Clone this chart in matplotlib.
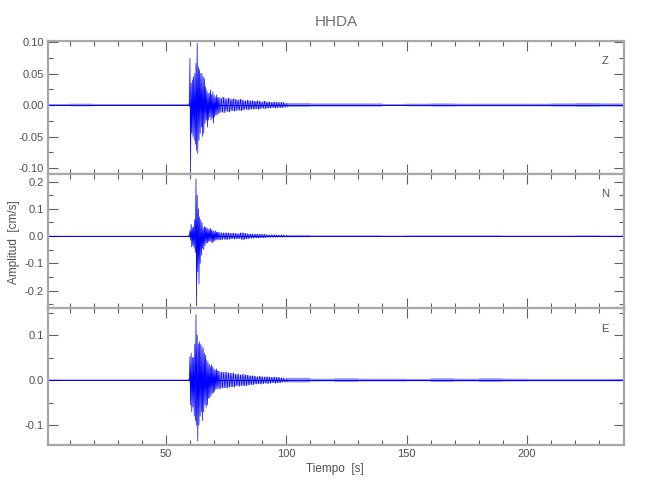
import matplotlib
matplotlib.use("Agg")
import matplotlib.pyplot as plt
from matplotlib.ticker import MultipleLocator
import numpy as np

plt.rcParams['font.family'] = ['Liberation Sans', 'DejaVu Sans']

# time bins (s) of the strong-motion part, max / min per bin
t_evt = [59.5, 60.0, 60.5, 61.0, 61.5, 62.0, 62.5, 63.0, 63.5, 64.0, 64.5, 65.0, 65.5,
         66.0, 66.5, 67.0, 67.5, 68.0, 68.5, 69.0, 69.5, 70.0, 70.5, 71.0, 71.5]

z_hi = [0.002, 0.074, 0.035, 0.040, 0.045, 0.050, 0.066, 0.098, 0.060, 0.056, 0.050, 0.050, 0.045,
        0.042, 0.029, 0.024, 0.019, 0.019, 0.024, 0.016, 0.021, 0.016, 0.013, 0.016, 0.012]
z_lo = [-0.002, -0.104, -0.045, -0.050, -0.056, -0.062, -0.072, -0.077, -0.056, -0.045, -0.035, -0.050, -0.045,
        -0.029, -0.024, -0.035, -0.024, -0.019, -0.024, -0.021, -0.029, -0.019, -0.016, -0.016, -0.014]

n_hi = [0.003, 0.020, 0.044, 0.030, 0.035, 0.060, 0.210, 0.150, 0.100, 0.070, 0.060, 0.050, 0.030,
        0.035, 0.032, 0.030, 0.028, 0.024, 0.028, 0.022, 0.020, 0.018, 0.020, 0.015, 0.014]
n_lo = [-0.003, -0.015, -0.040, -0.035, -0.045, -0.060, -0.256, -0.130, -0.176, -0.100, -0.070, -0.045, -0.050,
        -0.035, -0.025, -0.025, -0.020, -0.018, -0.022, -0.025, -0.020, -0.016, -0.015, -0.014, -0.012]

e_hi = [0.002, 0.052, 0.060, 0.050, 0.050, 0.080, 0.145, 0.100, 0.080, 0.085, 0.080, 0.075, 0.070,
        0.060, 0.055, 0.045, 0.040, 0.035, 0.030, 0.034, 0.030, 0.025, 0.022, 0.025, 0.020]
e_lo = [-0.002, -0.055, -0.070, -0.060, -0.080, -0.090, -0.100, -0.135, -0.100, -0.080, -0.070, -0.090, -0.070,
        -0.055, -0.060, -0.055, -0.040, -0.040, -0.035, -0.030, -0.028, -0.025, -0.020, -0.020, -0.018]

# coda, 1 s bins, amplitude
t_coda = list(range(72, 100))
z_coda = [0.012, 0.011, 0.012, 0.010, 0.011, 0.009, 0.010, 0.009, 0.008, 0.009, 0.008, 0.007, 0.008, 0.007,
          0.007, 0.006, 0.007, 0.006, 0.005, 0.006, 0.005, 0.005, 0.004, 0.005, 0.004, 0.004, 0.004, 0.004]
n_coda = [0.014, 0.013, 0.012, 0.013, 0.012, 0.010, 0.011, 0.010, 0.009, 0.012, 0.013, 0.010, 0.009, 0.008,
          0.008, 0.007, 0.007, 0.006, 0.006, 0.006, 0.005, 0.005, 0.005, 0.005, 0.004, 0.004, 0.004, 0.004]
e_coda = [0.020, 0.018, 0.017, 0.018, 0.016, 0.015, 0.016, 0.013, 0.014, 0.012, 0.013, 0.012, 0.011, 0.010,
          0.010, 0.009, 0.008, 0.009, 0.008, 0.007, 0.008, 0.007, 0.006, 0.007, 0.006, 0.006, 0.005, 0.005]

# background noise half-width per segment
pre_edges = [1, 10, 20, 30, 40, 50, 59.5]
post_edges = [100, 110, 120, 130, 140, 150, 160, 170, 180, 190, 200, 210, 220, 230, 240.3]
z_pre = [0.0015, 0.002, 0.0015, 0.0015, 0.0015, 0.0015]
z_post = [0.003, 0.0025, 0.0025, 0.0025, 0.0015, 0.002, 0.0025, 0.002, 0.002, 0.002, 0.002, 0.0025, 0.003, 0.0025]
n_pre = [0.0015, 0.0015, 0.0015, 0.0015, 0.0015, 0.0015]
n_post = [0.004, 0.003, 0.003, 0.003, 0.002, 0.003, 0.003, 0.003, 0.003, 0.002, 0.002, 0.002, 0.003, 0.002]
e_pre = [0.0015, 0.0015, 0.0015, 0.0015, 0.0015, 0.0015]
e_post = [0.005, 0.003, 0.004, 0.003, 0.003, 0.0025, 0.004, 0.003, 0.004, 0.003, 0.0025, 0.0025, 0.0025, 0.0025]

components = ['Z', 'N', 'E']
ylims = [(-0.1095, 0.1016), (-0.264, 0.228), (-0.144, 0.16)]
ymajor = [0.05, 0.1, 0.1]
yminor = [0.025, 0.05, 0.05]
yfmt = ['%.2f', '%.1f', '%.1f']

traces = [(z_hi, z_lo, z_coda, z_pre, z_post),
          (n_hi, n_lo, n_coda, n_pre, n_post),
          (e_hi, e_lo, e_coda, e_pre, e_post)]

BLUE = '#0000ff'
AXC = '#a8a8a8'
TXT = '#505050'

fig = plt.figure(figsize=(6.5, 5), dpi=100)
boxes = [(0.0738, 0.652, 0.886, 0.266),
         (0.0738, 0.384, 0.886, 0.268),
         (0.0738, 0.110, 0.886, 0.274)]


def zigzag(t, hi, lo):
    t = np.asarray(t, float)
    d = np.diff(np.append(t, t[-1] + (t[-1] - t[-2])))
    x = np.column_stack([t, t + d / 2]).ravel()
    y = np.column_stack([hi, lo]).ravel()
    return x, y


for i, ax_box in enumerate(boxes):
    ax = fig.add_axes(ax_box)
    hi, lo, coda, pre, post = traces[i]

    # baseline + background noise (soft band)
    ax.plot([pre_edges[0], post_edges[-1]], [0, 0], color=BLUE, lw=0.7)
    for edges, w in ((pre_edges, pre), (post_edges, post)):
        ax.stairs(w, edges, baseline=-np.asarray(w), fill=True, color=BLUE,
                  alpha=0.45, lw=0, snap=False)

    # coda band underneath the wiggle
    c = np.asarray(coda)
    ax.fill_between(t_coda, c, -c, step='mid', color=BLUE, alpha=0.3, lw=0)

    # strong motion + coda wiggle
    x1, y1 = zigzag(t_evt, hi, lo)
    x2, y2 = zigzag(t_coda + [100], np.append(c, 0.003), -np.append(c, 0.003))
    ax.plot(np.concatenate([x1, x2]), np.concatenate([y1, y2]), color=BLUE, lw=0.5)

    ax.set_xlim(1, 240.3)
    ax.set_ylim(*ylims[i])
    ax.xaxis.set_major_locator(MultipleLocator(50))
    ax.xaxis.set_minor_locator(MultipleLocator(10))
    ax.yaxis.set_major_locator(MultipleLocator(ymajor[i]))
    ax.yaxis.set_minor_locator(MultipleLocator(yminor[i]))
    ax.yaxis.set_major_formatter(plt.FormatStrFormatter(yfmt[i]))

    ax.tick_params(which='both', direction='in', top=True, right=True,
                   color='#606060', labelcolor=TXT, labelsize=8, width=0.8, pad=3)
    ax.tick_params(which='major', length=7)
    ax.tick_params(which='minor', length=3.5)
    if i < 2:
        ax.tick_params(labelbottom=False)
    for s in ax.spines.values():
        s.set_color(AXC)
        s.set_linewidth(1.6)

    ax.text(0.967, 0.85, components[i], transform=ax.transAxes, ha='center',
            va='center', color=TXT, fontsize=8)

fig.text(0.517, 0.957, 'HHDA', ha='center', va='center', color='#707070', fontsize=11)
fig.text(0.515, 0.062, 'Tiempo  [s]', ha='center', va='center', color=TXT, fontsize=8.5)
fig.text(0.022, 0.516, 'Amplitud  [cm/s]', ha='center', va='center', rotation=90,
         color=TXT, fontsize=8.5)

fig.savefig('out.png', dpi=100)
